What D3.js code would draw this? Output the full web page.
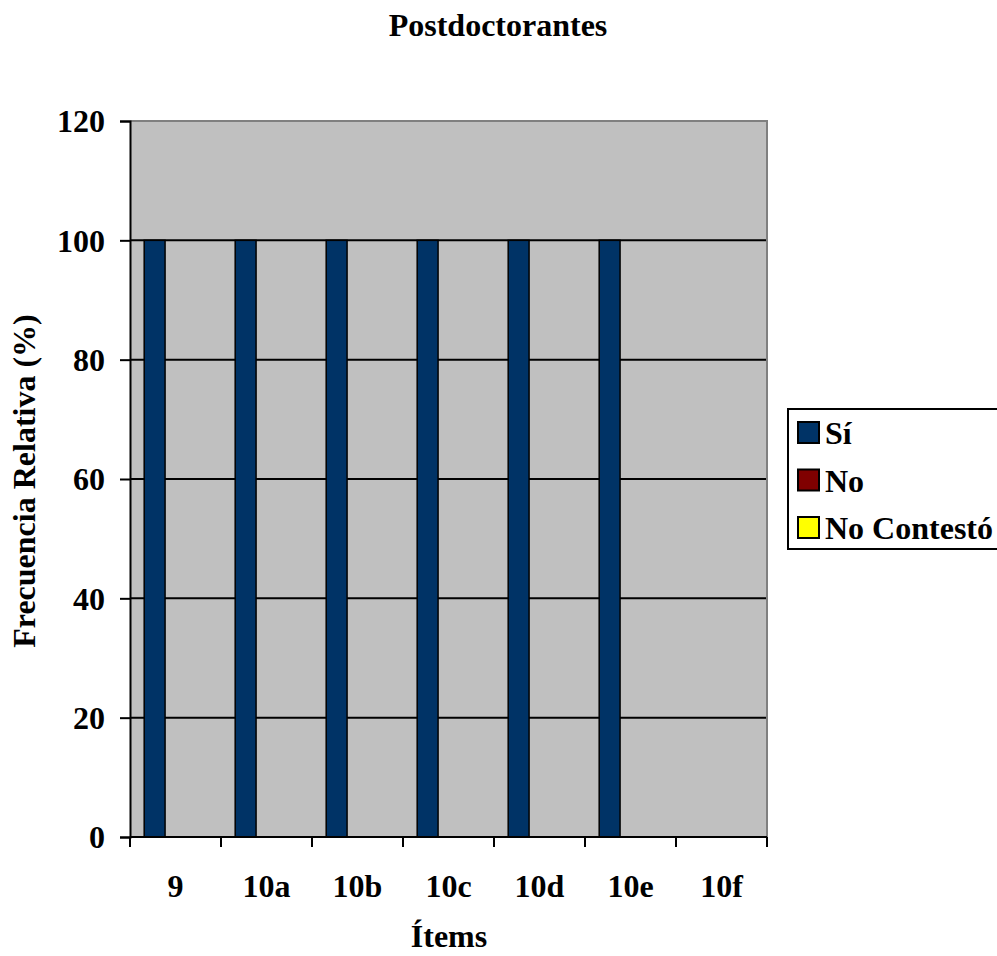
<!DOCTYPE html>
<html>
<head>
<meta charset="utf-8">
<script src="https://cdn.jsdelivr.net/npm/d3@7"></script>
<style>
  html, body { margin: 0; padding: 0; background: #fff; }
  svg { display: block; font-family: "Liberation Serif", "Times New Roman", serif; font-weight: bold; }
</style>
</head>
<body>
<svg id="chart" width="997" height="956"></svg>
<script>
// Survey items and relative frequencies (%) per answer
const items = ["9", "10a", "10b", "10c", "10d", "10e", "10f"];
const seriesNames = ["Sí", "No", "No Contestó"];
const si = [100, 100, 100, 100, 100, 100, 0];
const no = [0, 0, 0, 0, 0, 0, 0];
const noContesto = [0, 0, 0, 0, 0, 0, 0];
const yTicks = [0, 20, 40, 60, 80, 100, 120];
const colors = ["#003366", "#800000", "#ffff00"];

const values = [si, no, noContesto];
const svg = d3.select("#chart");
const plot = { left: 130, top: 121, right: 767, bottom: 837 };
const FS = 32;

const x = d3.scaleBand().domain(items).range([plot.left, plot.right]).paddingInner(0).paddingOuter(0);
const xSeries = d3.scaleBand().domain(seriesNames).range([0, x.bandwidth()]).paddingOuter(0.68).paddingInner(0);
const y = d3.scaleLinear().domain([0, 120]).range([plot.bottom, plot.top]);

// Plot background
svg.append("rect")
  .attr("x", plot.left).attr("y", plot.top)
  .attr("width", plot.right - plot.left).attr("height", plot.bottom - plot.top)
  .attr("fill", "#c0c0c0");

// Gridlines
svg.append("g").selectAll("line")
  .data(yTicks.filter(t => t > 0 && t < 120))
  .join("line")
  .attr("x1", plot.left).attr("x2", plot.right)
  .attr("y1", d => y(d)).attr("y2", d => y(d))
  .attr("stroke", "#000").attr("stroke-width", 2);

// Plot border (top and right)
svg.append("path")
  .attr("d", `M${plot.left},${plot.top}H${plot.right}V${plot.bottom}`)
  .attr("fill", "none").attr("stroke", "#808080").attr("stroke-width", 2);

// Bars
const rows = [];
items.forEach((it, i) => seriesNames.forEach((s, j) => rows.push({ item: it, series: s, value: values[j][i], color: colors[j] })));
svg.append("g").selectAll("rect")
  .data(rows.filter(d => d.value > 0))
  .join("rect")
  .attr("x", d => x(d.item) + xSeries(d.series))
  .attr("y", d => y(d.value))
  .attr("width", xSeries.bandwidth())
  .attr("height", d => y(0) - y(d.value))
  .attr("fill", d => d.color)
  .attr("stroke", "#000").attr("stroke-width", 1.5);

// Y axis
const yAxis = svg.append("g")
  .attr("transform", `translate(${plot.left},0)`)
  .call(d3.axisLeft(y).tickValues(yTicks).tickSize(10).tickPadding(15));
yAxis.select(".domain").attr("stroke", "#000").attr("stroke-width", 2);
yAxis.selectAll(".tick line").attr("stroke", "#000").attr("stroke-width", 2);
yAxis.selectAll(".tick text")
  .attr("font-family", "Liberation Serif").attr("font-weight", "bold")
  .attr("font-size", FS).attr("fill", "#000").attr("dy", "0.34em");

// X axis with ticks at category boundaries
const xAxisG = svg.append("g").attr("transform", `translate(0,${plot.bottom})`);
xAxisG.append("line")
  .attr("x1", plot.left).attr("x2", plot.right)
  .attr("stroke", "#000").attr("stroke-width", 2);
const boundaries = items.map(d => x(d)).concat([plot.right]);
xAxisG.selectAll("line.tk").data(boundaries).join("line")
  .attr("class", "tk")
  .attr("x1", d => d).attr("x2", d => d).attr("y1", 0).attr("y2", 10)
  .attr("stroke", "#000").attr("stroke-width", 2);
xAxisG.selectAll("text").data(items).join("text")
  .attr("x", d => x(d) + x.bandwidth() / 2)
  .attr("y", 60)
  .attr("text-anchor", "middle")
  .attr("font-size", FS).attr("fill", "#000")
  .text(d => d);

// Titles
svg.append("text").attr("x", 498).attr("y", 36).attr("text-anchor", "middle")
  .attr("font-size", FS).text("Postdoctorantes");
svg.append("text").attr("x", 449).attr("y", 947).attr("text-anchor", "middle")
  .attr("font-size", FS).text("Ítems");
svg.append("text")
  .attr("transform", "translate(35,481) rotate(-90)")
  .attr("text-anchor", "middle").attr("font-size", FS)
  .text("Frecuencia Relativa (%)");

// Legend
const legend = svg.append("g");
legend.append("rect")
  .attr("x", 788).attr("y", 409).attr("width", 220).attr("height", 140)
  .attr("fill", "#fff").attr("stroke", "#000").attr("stroke-width", 2);
const legendRows = legend.selectAll("g.row").data(seriesNames).join("g")
  .attr("class", "row")
  .attr("transform", (d, i) => `translate(798,${422 + i * 47.5})`);
legendRows.append("rect")
  .attr("width", 21).attr("height", 21)
  .attr("fill", (d, i) => colors[i])
  .attr("stroke", "#000").attr("stroke-width", 2);
legendRows.append("text")
  .attr("x", 27).attr("y", 22)
  .attr("font-size", FS).attr("fill", "#000")
  .text(d => d);
</script>
</body>
</html>
